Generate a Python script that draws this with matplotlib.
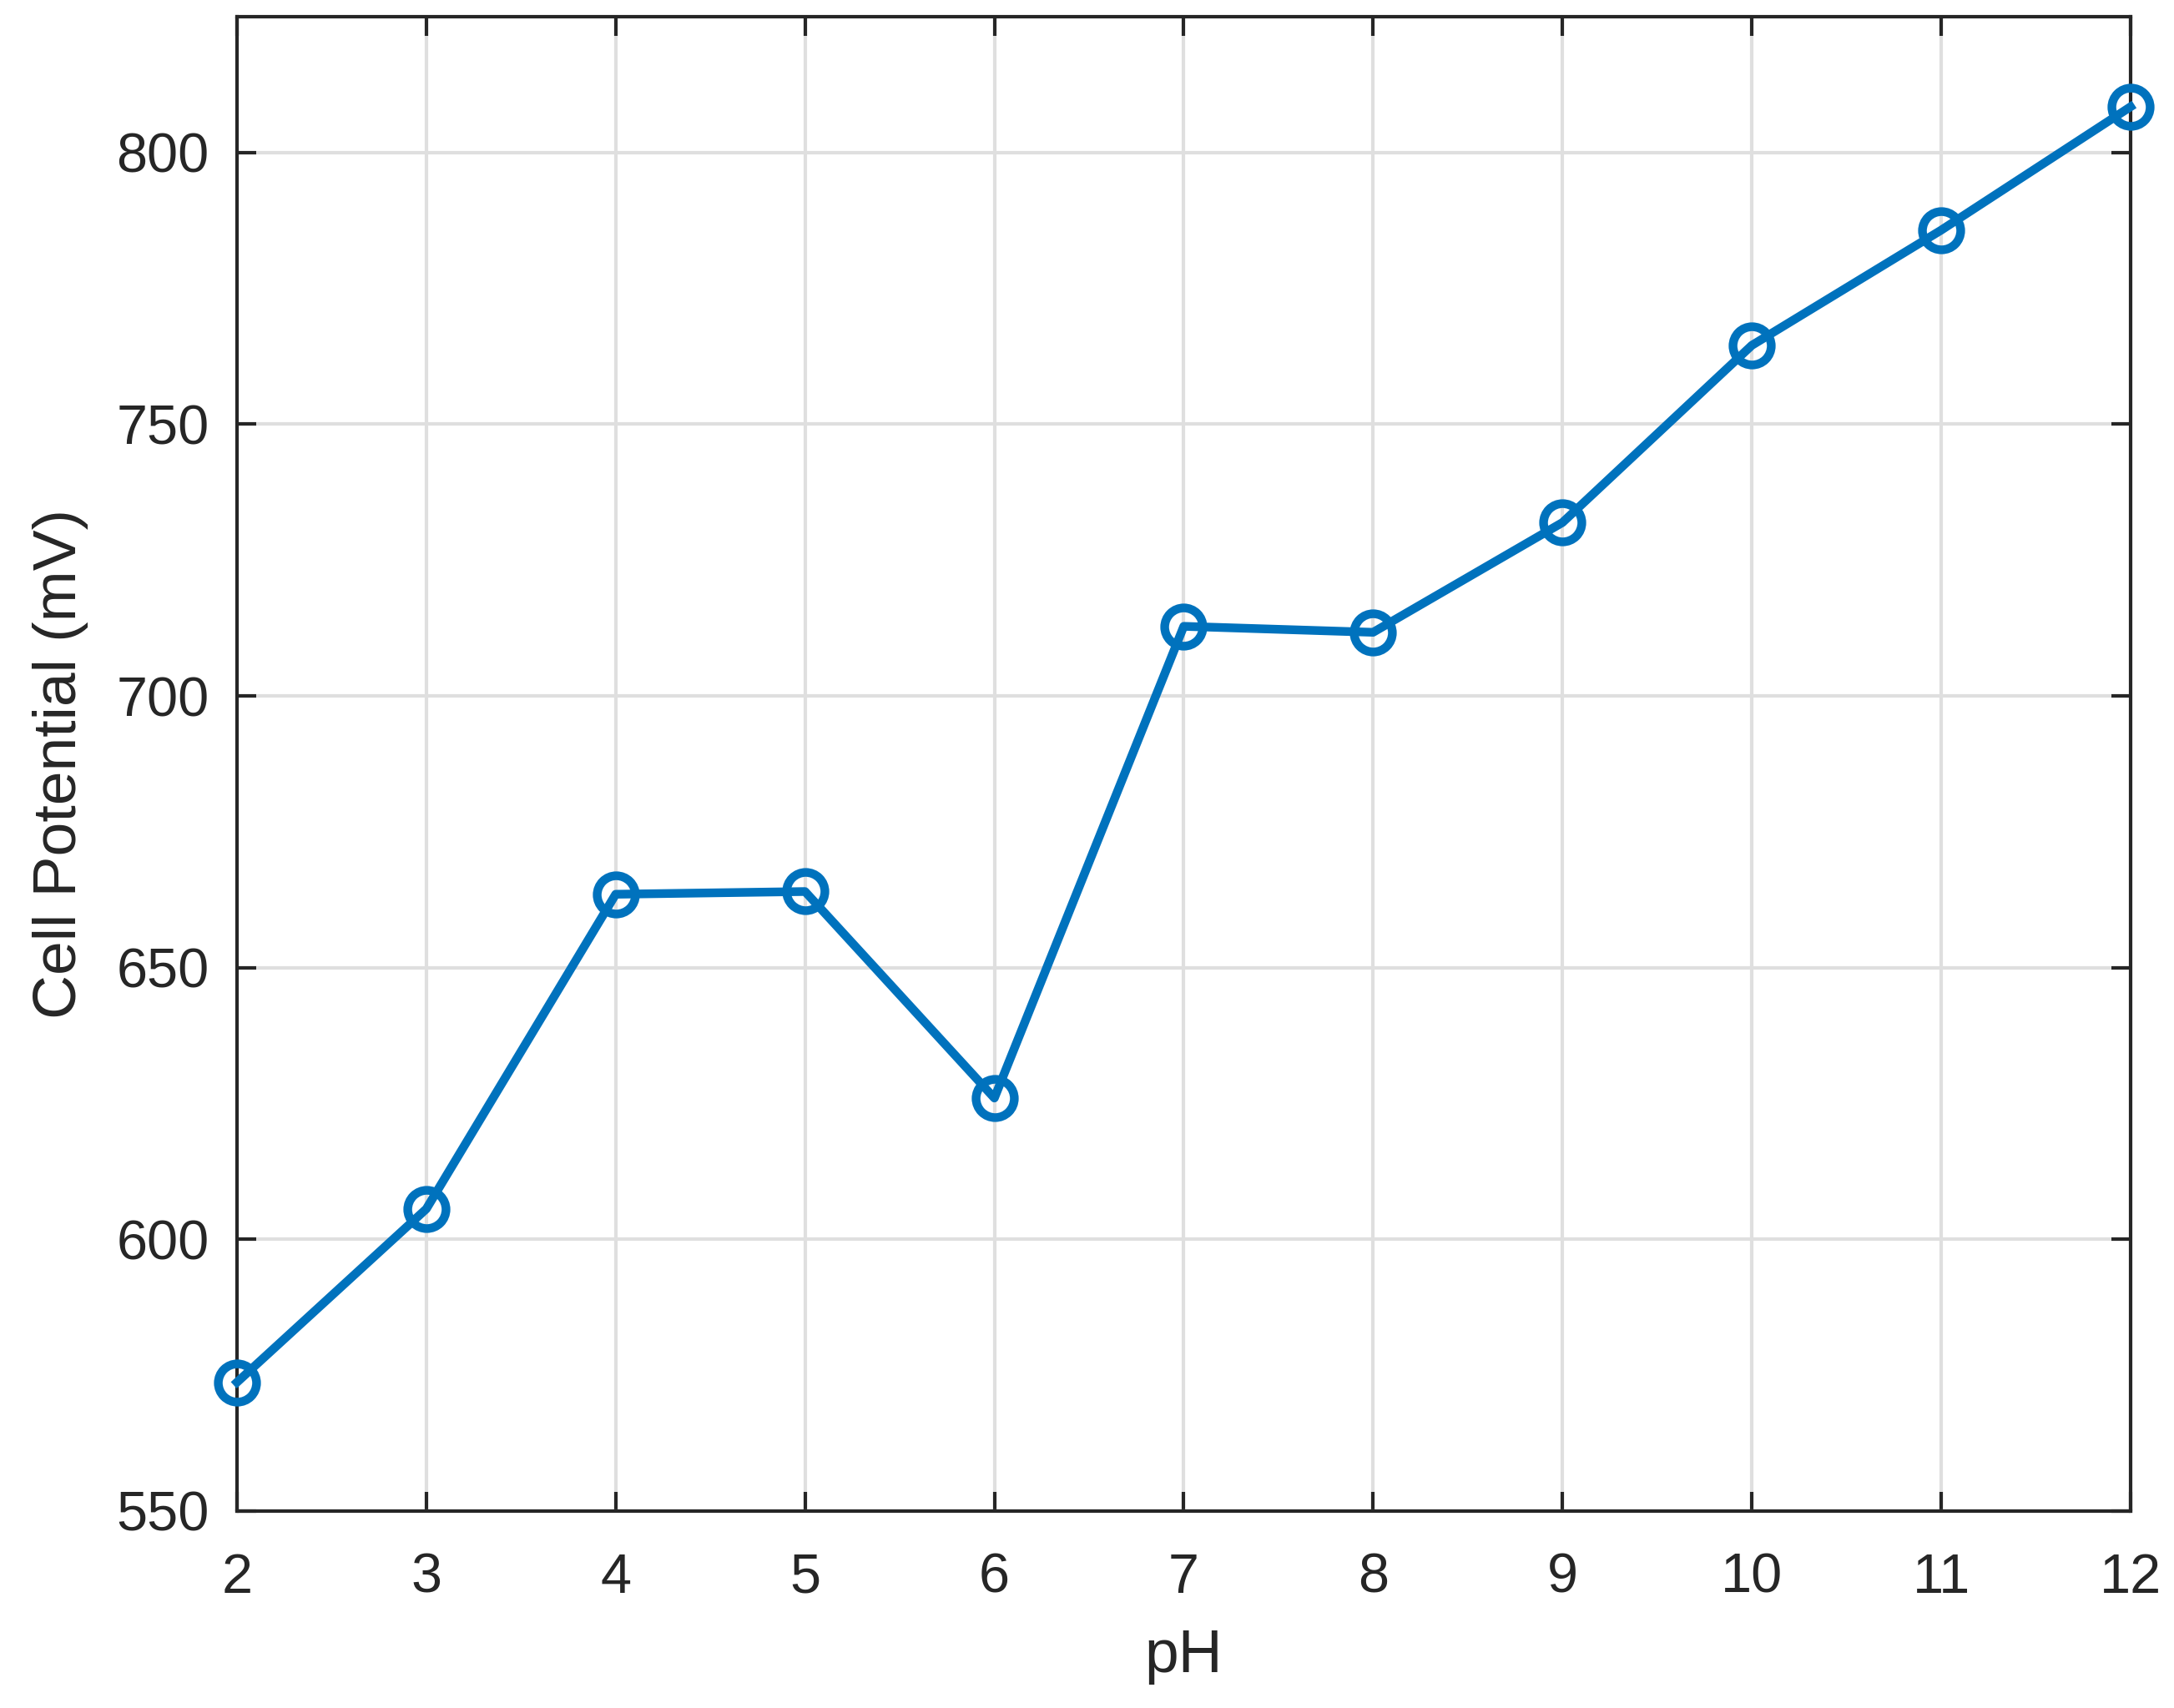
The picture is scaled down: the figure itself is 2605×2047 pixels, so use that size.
import matplotlib.pyplot as plt
import numpy as np

# data
ph = [2, 3, 4, 5, 6, 7, 8, 9, 10, 11, 12]
potential = [573.7, 605.6, 663.5, 664.0, 626.0, 712.8, 711.7, 731.9, 764.5, 785.7, 808.4]
yticks = [550, 600, 650, 700, 750, 800]

plt.rcParams['font.family'] = ['Liberation Sans', 'DejaVu Sans']

fig = plt.figure(figsize=(2605/300, 2047/300), dpi=300)
ax = fig.add_axes([0.109, 0.1153, 0.871, 0.875])

ax.plot(ph, potential, color='#0072BD', linewidth=2.5, marker='o', markersize=11,
        markerfacecolor='none', markeredgewidth=2.5, zorder=3, clip_on=False)

ax.set_xlim(2, 12)
ax.set_ylim(550, 825)
ax.set_xticks(ph)
ax.set_yticks(yticks)
ax.grid(True, color='#dfdfdf', linewidth=1.0)
ax.set_axisbelow(True)

ax.tick_params(direction='in', top=True, right=True, length=5.5, width=1.0,
               labelsize=16, colors='#262626')
ax.tick_params(axis='x', pad=12)
ax.tick_params(axis='y', pad=8)
for s in ax.spines.values():
    s.set_color('#262626')
    s.set_linewidth(1.0)

ax.set_xlabel('pH', fontsize=17.6, color='#262626', labelpad=7)
ax.set_ylabel('Cell Potential (mV)', fontsize=17.6, color='#262626', labelpad=8)

plt.savefig('out.png', dpi=300)
